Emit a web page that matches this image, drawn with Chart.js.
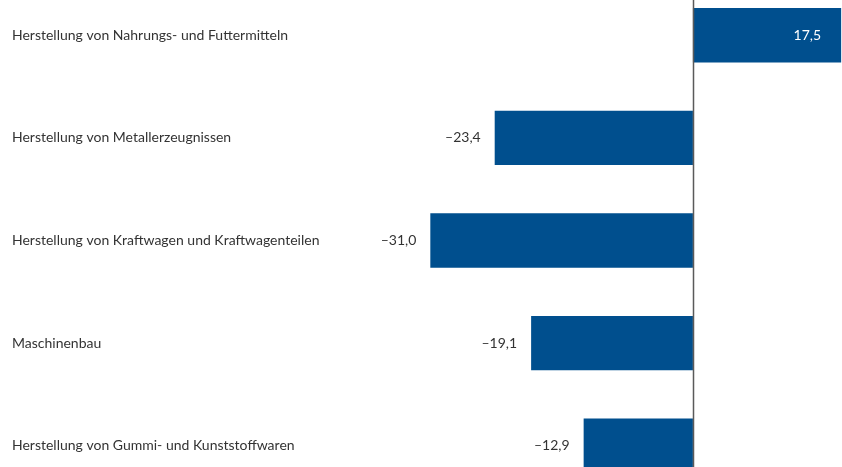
<!DOCTYPE html>
<html>
<head>
<meta charset="utf-8">
<script src="https://cdn.jsdelivr.net/npm/chart.js@4/dist/chart.umd.min.js"></script>
<style>
  html, body { margin: 0; padding: 0; background: #fff; }
  #wrap { position: relative; width: 842px; height: 467px; overflow: hidden; }
  #wrap canvas { position: absolute; left: 0; top: -16px; }
</style>
</head>
<body>
<div id="wrap">
  <canvas id="myChart" width="842" height="513"></canvas>
</div>
<script>
const categories = [
  'Herstellung von Nahrungs- und Futtermitteln',
  'Herstellung von Metallerzeugnissen',
  'Herstellung von Kraftwagen und Kraftwagenteilen',
  'Maschinenbau',
  'Herstellung von Gummi- und Kunststoffwaren'
];
const values = [17.5, -23.4, -31.0, -19.1, -12.9];

const barColor = '#004f8e';
const textColor = '#333333';
const fontFamily = 'Lato, "Open Sans", sans-serif';

// 17,5 / –23,4 style
const fmt = (v) => (v < 0 ? '\u2013' : '') + Math.abs(v).toFixed(1).replace('.', ',');

// category names, zero line and value labels
const annotations = {
  id: 'annotations',
  afterDatasetsDraw(chart) {
    const ctx = chart.ctx;
    const xs = chart.scales.x;
    const ys = chart.scales.y;
    const meta = chart.getDatasetMeta(0);
    ctx.save();

    // zero line
    const x0 = Math.round(xs.getPixelForValue(0)) + 0.5;
    ctx.strokeStyle = '#5a5a5a';
    ctx.lineWidth = 1.5;
    ctx.beginPath();
    ctx.moveTo(x0, chart.chartArea.top);
    ctx.lineTo(x0, chart.chartArea.bottom);
    ctx.stroke();

    ctx.font = '14px ' + fontFamily;
    ctx.textBaseline = 'middle';

    ctx.textAlign = 'left';
    ctx.fillStyle = textColor;
    categories.forEach((c, i) => {
      ctx.fillText(c, 12, ys.getPixelForValue(i));
    });

    ctx.textAlign = 'right';
    meta.data.forEach((bar, i) => {
      const v = values[i];
      if (v >= 0) {
        ctx.fillStyle = '#ffffff';
        ctx.fillText(fmt(v), bar.x - 20, bar.y);
      } else {
        ctx.fillStyle = textColor;
        ctx.fillText(fmt(v), bar.x - 14, bar.y);
      }
    });
    ctx.restore();
  }
};

new Chart(document.getElementById('myChart').getContext('2d'), {
  type: 'bar',
  data: {
    labels: categories,
    datasets: [{
      data: values,
      backgroundColor: barColor,
      borderWidth: 0,
      barPercentage: 0.53,
      categoryPercentage: 1
    }]
  },
  options: {
    indexAxis: 'y',
    responsive: false,
    animation: false,
    layout: { padding: 0 },
    plugins: {
      legend: { display: false },
      tooltip: { enabled: false }
    },
    scales: {
      x: { display: false, min: -81.8, max: 17.6 },
      y: { display: false }
    }
  },
  plugins: [annotations]
});
</script>
</body>
</html>
